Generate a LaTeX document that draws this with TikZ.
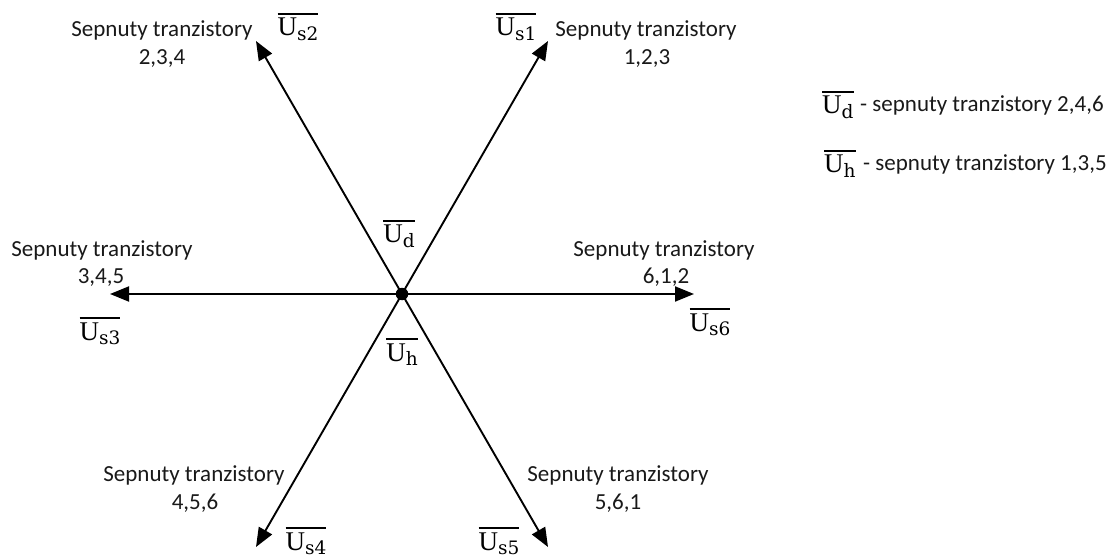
\documentclass[tikz,border=0pt]{standalone}
\usepackage{fontspec}
\setmainfont{Carlito}
\newfontfamily\userif{Liberation Serif}
\newfontfamily\subserif{DejaVu Serif}
\usetikzlibrary{arrows.meta}
\newcommand\vlab[1]{\vbox{\hrule height 1.3pt\kern 3.6pt\hbox{\userif\fontsize{27}{27}\selectfont U\raisebox{-4.5pt}{\subserif\fontsize{18.5}{18.5}\selectfont #1}}}}
\tikzset{
  txt/.style={inner sep=0pt, anchor=base, font=\fontsize{23}{28}\selectfont, text=black!90},
  vec/.style={inner sep=0pt, anchor=base},
  vecarrow/.style={line width=1.9pt, -{Triangle[length=19pt,width=15pt]}},
}
\begin{document}
\begin{tikzpicture}[x=1pt,y=-1pt]
\useasboundingbox (0,0) rectangle (1120,559);
% center
\node[circle, fill=black, inner sep=0pt, minimum size=12.5pt] (c) at (402,294) {};
\coordinate (e1) at (548,41);
\coordinate (e2) at (256,41);
\coordinate (e3) at (110,294);
\coordinate (e4) at (256,547);
\coordinate (e5) at (548,547);
\coordinate (e6) at (694,294);
\foreach \e in {e1,e2,e3,e4,e5,e6} \draw[vecarrow] (c.center) -- (\e);
% vector labels
\node[vec] (us1) at (516,36) {\vlab{s1}};
\node[vec] (us2) at (298,36) {\vlab{s2}};
\node[vec] (us3) at (100,340) {\vlab{s3}};
\node[vec] (us4) at (306,550) {\vlab{s4}};
\node[vec] (us5) at (499,550) {\vlab{s5}};
\node[vec] (us6) at (710,331) {\vlab{s6}};
\node[vec] (ud) at (399,243) {\vlab{d}};
\node[vec] (uh) at (402,361) {\vlab{h}};
% transistor labels
\node[txt] (t2a) at (162,37) {Sepnuty tranzistory};
\node[txt] (t2b) at (162,65) {2,3,4};
\node[txt] (t1a) at (646,37) {Sepnuty tranzistory};
\node[txt] (t1b) at (647,65) {1,2,3};
\node[txt] (t3a) at (102,256) {Sepnuty tranzistory};
\node[txt] (t3b) at (101,283) {3,4,5};
\node[txt] (t6a) at (664,256) {Sepnuty tranzistory};
\node[txt] (t6b) at (666,283) {6,1,2};
\node[txt] (t4a) at (194,481) {Sepnuty tranzistory};
\node[txt] (t4b) at (195,509) {4,5,6};
\node[txt] (t5a) at (618,481) {Sepnuty tranzistory};
\node[txt] (t5b) at (618,509) {5,6,1};
% legend
\node[vec, anchor=base west] (lud) at (822,114) {\vlab{d}};
\node[txt, anchor=base west] (lt1) at (860,112) {- sepnuty tranzistory 2,4,6};
\node[vec, anchor=base west] (luh) at (824,173) {\vlab{h}};
\node[txt, anchor=base west] (lt2) at (863,171) {- sepnuty tranzistory 1,3,5};
\end{tikzpicture}
\end{document}
